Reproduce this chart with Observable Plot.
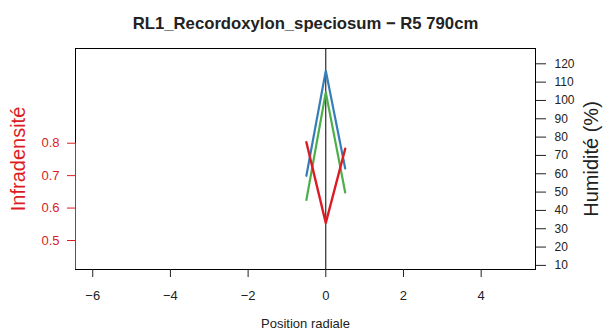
<!DOCTYPE html>
<html><head><meta charset="utf-8">
<script src="https://cdn.jsdelivr.net/npm/d3@7"></script>
<script src="https://cdn.jsdelivr.net/npm/@observablehq/plot@0.6"></script>
<style>
body{margin:0;background:#fff}
svg{font-family:"Liberation Sans",Arial,Helvetica,sans-serif}
</style>
</head><body><div id="chart"></div>
<script>
// ---- data ----
const positions = [-0.5, 0, 0.5];
const infradensite = [0.803, 0.554, 0.783];
const humiditeBleu = [58.9, 116.2, 62.9];
const humiditeVert = [45.7, 104.4, 49.8];
const xTicks = [-6, -4, -2, 0, 2, 4];
const infTicks = [0.5, 0.6, 0.7, 0.8];
const humTicks = [10, 20, 30, 40, 50, 60, 70, 80, 90, 100, 110, 120];
const title = "RL1_Recordoxylon_speciosum \u2212 R5 790cm";
const xLabel = "Position radiale";
const yLeftLabel = "Infradensit\u00e9";
const yRightLabel = "Humidit\u00e9 (%)";

// ---- scales ----
const xDomain = [-6.444, 5.399];
const humDomain = [7.76, 128.35];
const infDomain = [0.4106, 1.092];
const k = (humDomain[1] - humDomain[0]) / (infDomain[1] - infDomain[0]);
const toHum = v => humDomain[0] + (v - infDomain[0]) * k;
const toInf = h => infDomain[0] + (h - humDomain[0]) / k;

const red = "#DC1C24", blue = "#377EB8", green = "#4DAF4A";

const redData = positions.map((x, i) => ({x, y: toHum(infradensite[i])}));
const blueData = positions.map((x, i) => ({x, y: humiditeBleu[i]}));
const greenData = positions.map((x, i) => ({x, y: humiditeVert[i]}));

const chart = Plot.plot({
  width: 605, height: 336,
  marginLeft: 75, marginRight: 70, marginTop: 48, marginBottom: 67,
  style: {background: "white", fontFamily: '"Liberation Sans",Arial,sans-serif', fontSize: "13px", overflow: "visible"},
  x: {domain: xDomain},
  y: {domain: humDomain},
  marks: [
    Plot.ruleX([0], {stroke: "black"}),
    Plot.line(blueData, {x: "x", y: "y", stroke: blue, strokeWidth: 2.2}),
    Plot.line(greenData, {x: "x", y: "y", stroke: green, strokeWidth: 2.2}),
    Plot.line(redData, {x: "x", y: "y", stroke: red, strokeWidth: 2.4}),
    Plot.frame({stroke: "black"}),
    Plot.ruleX([xDomain[0]], {y1: toHum(0.8), y2: humDomain[0], stroke: red}),
    Plot.axisX(xTicks, {tickSize: 8, tickPadding: 13, label: null, fontSize: 13, color: "#222"}),
    Plot.axisY(humTicks, {anchor: "right", tickSize: 10, tickPadding: 9, label: null, fontSize: 12, color: "#222"}),
    Plot.axisY(infTicks.map(toHum), {anchor: "left", tickSize: 8, tickPadding: 8, label: null, fontSize: 13,
      color: red, tickFormat: d => toInf(d).toFixed(1)}),
    Plot.text([title], {text: d => d, frameAnchor: "top", dy: -31, fontWeight: "bold", fontSize: 16.7, fill: "#222"}),
    Plot.text([xLabel], {text: d => d, frameAnchor: "bottom", dy: 58, fontSize: 13, fill: "#222"}),
    Plot.text([yLeftLabel], {text: d => d, frameAnchor: "left", textAnchor: "middle", dx: -57, rotate: -90, fontSize: 20, fill: red}),
    Plot.text([yRightLabel], {text: d => d, frameAnchor: "right", textAnchor: "middle", dx: 56, rotate: -90, fontSize: 20, fill: "#222"})
  ]
});
document.getElementById("chart").append(chart);
</script>
</body></html>
